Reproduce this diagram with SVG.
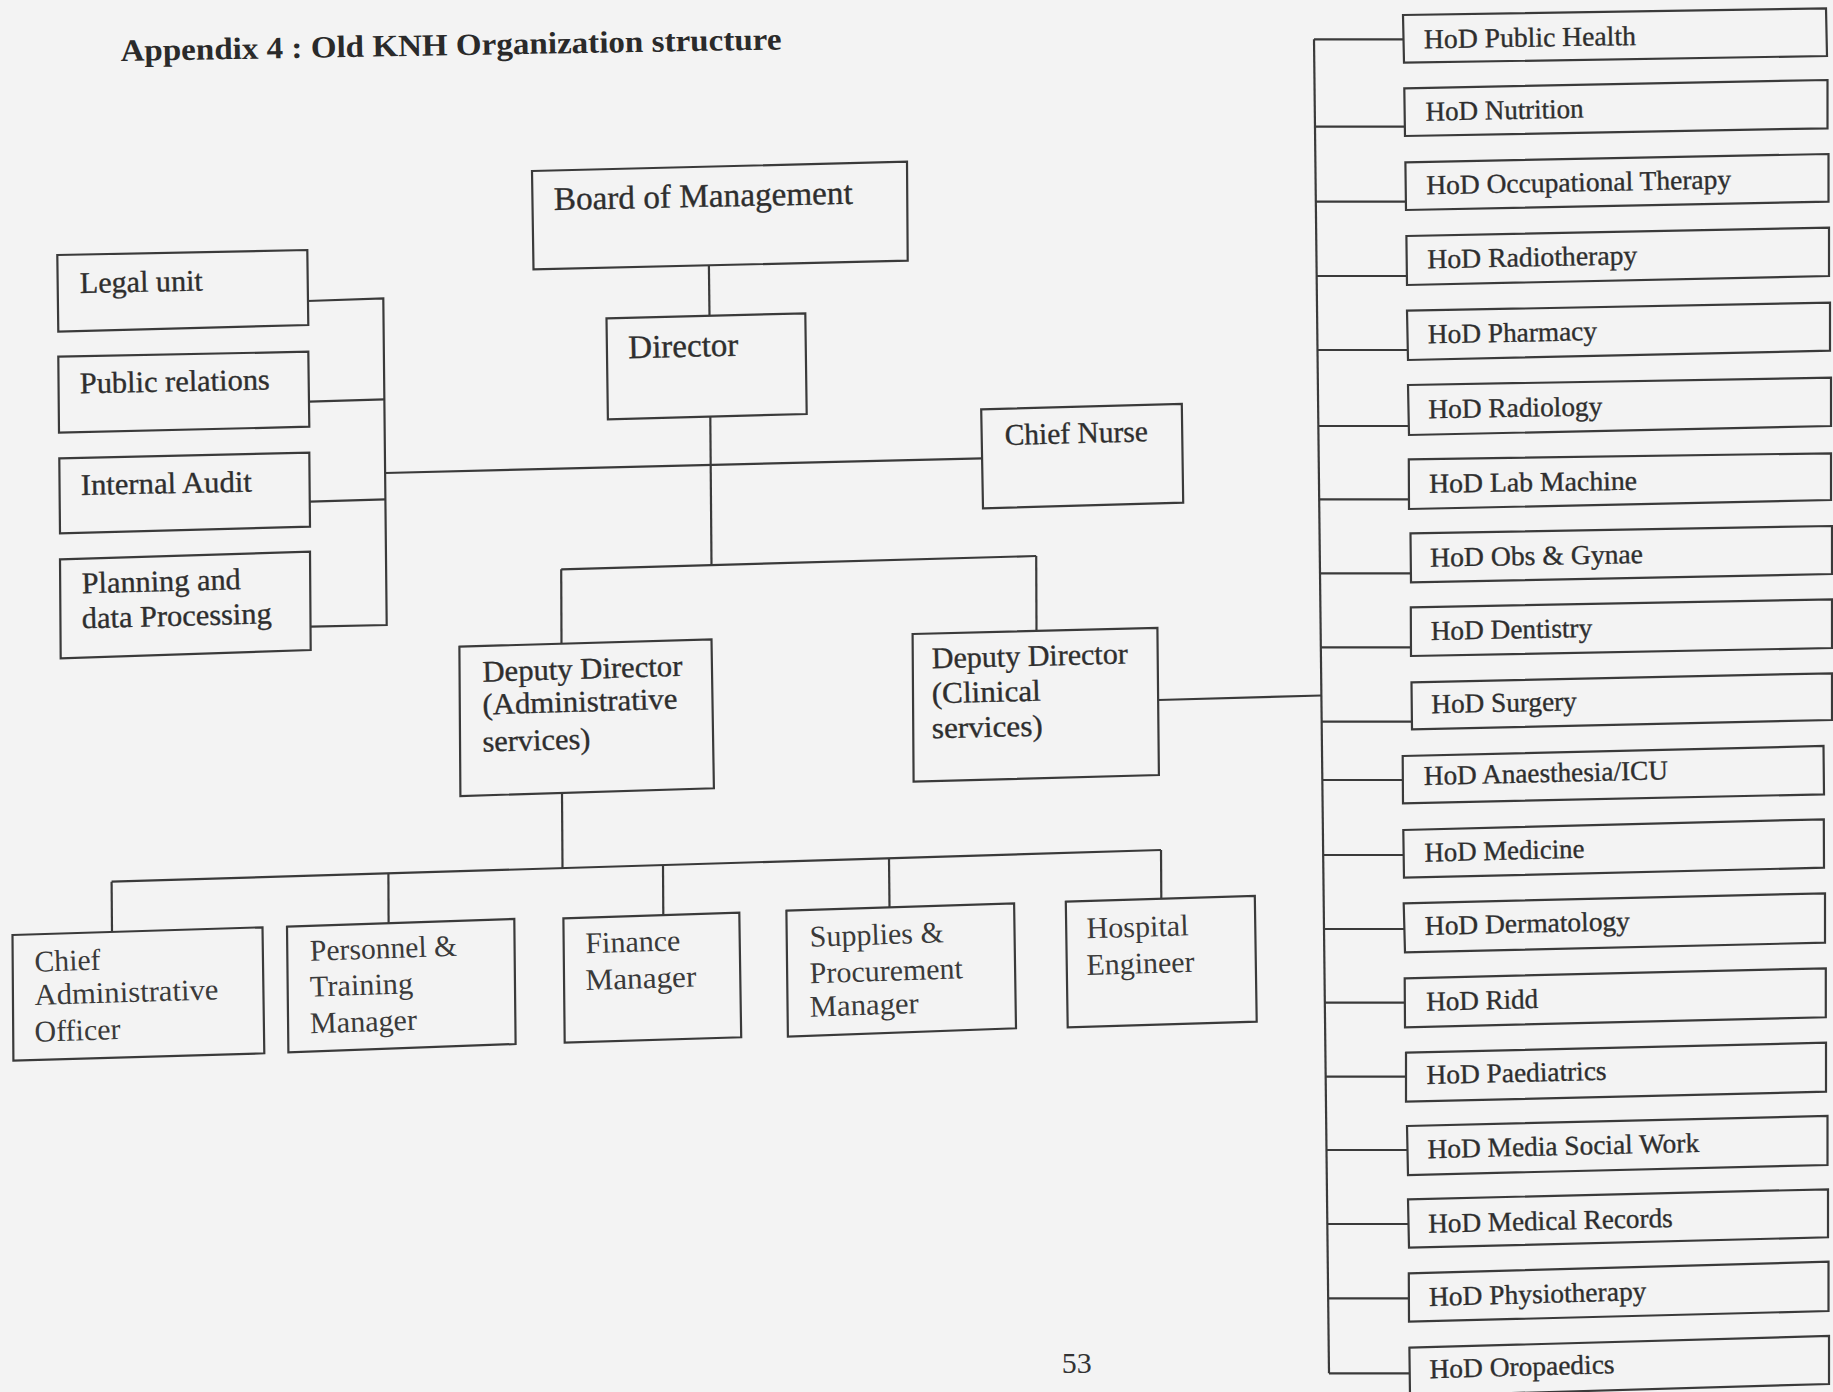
<svg xmlns="http://www.w3.org/2000/svg" width="1833" height="1392" viewBox="0 0 1833 1392">
<style>
.bg{fill:#f3f3f3}
.box{fill:none;stroke:#3a3a3a;stroke-width:2.2;stroke-linejoin:miter}
.conn line,.conn polyline{fill:none;stroke:#3a3a3a;stroke-width:2.2}
.t{font-family:"Liberation Serif","Times New Roman",serif;font-size:30px;fill:#2e2e2e;stroke:#2e2e2e;stroke-width:0.35}
.lt{fill:#3a3a3a;stroke:none}
.big{font-size:33px}
.hod{font-size:27.3px}
.title{font-family:"Liberation Serif","Times New Roman",serif;font-size:31px;font-weight:bold;fill:#2a2a2a}
.pn{font-family:"Liberation Serif","Times New Roman",serif;font-size:30px;fill:#333}
</style>
<rect class="bg" x="0" y="0" width="1833" height="1392"/>

<g id="title"><text class="title" x="120.7" y="61" transform="rotate(-1 120.7 61)" textLength="661" lengthAdjust="spacingAndGlyphs">Appendix 4 : Old KNH Organization structure</text></g>

<g id="connectors" class="conn">
<polyline points="307.3,301 383.3,298.3 386.7,625 310.7,626.7"/>
<line x1="309.3" y1="401.7" x2="384.4" y2="399.3"/>
<line x1="310" y1="501.7" x2="385.4" y2="499.3"/>
<line x1="385.1" y1="473" x2="982.1" y2="458.3"/>
<line x1="708.9" y1="265.3" x2="709.5" y2="315.7"/>
<line x1="710.3" y1="416.6" x2="711.5" y2="565.1"/>
<line x1="561.2" y1="569.3" x2="1036.2" y2="556"/>
<line x1="561.2" y1="569.3" x2="561.5" y2="643.7"/>
<line x1="1036.2" y1="556" x2="1036.5" y2="631"/>
<line x1="1158.1" y1="700" x2="1321.4" y2="695.5"/>
<line x1="562" y1="792.9" x2="562.5" y2="868.1"/>
<line x1="111.6" y1="881.7" x2="1161" y2="850"/>
<line x1="111.6" y1="881.7" x2="112" y2="932"/>
<line x1="388.4" y1="873.3" x2="388.6" y2="923.3"/>
<line x1="663" y1="865.2" x2="663.3" y2="915.1"/>
<line x1="889" y1="858.2" x2="889.5" y2="907.4"/>
<line x1="1161" y1="850" x2="1161.3" y2="898.8"/>
<line x1="1314" y1="39.3" x2="1329" y2="1373.3"/>
<line x1="1314" y1="39.3" x2="1403.1" y2="39.3"/>
<line x1="1315" y1="126.7" x2="1404.7" y2="126.7"/>
<line x1="1315.8" y1="201.7" x2="1405.8" y2="201.7"/>
<line x1="1316.7" y1="276" x2="1406.9" y2="276"/>
<line x1="1317.5" y1="350" x2="1407.8" y2="350"/>
<line x1="1318.3" y1="426" x2="1408.8" y2="426"/>
<line x1="1319.2" y1="499.3" x2="1409" y2="499.3"/>
<line x1="1320" y1="573.3" x2="1410.9" y2="573.3"/>
<line x1="1320.8" y1="647.3" x2="1411" y2="647.3"/>
<line x1="1321.7" y1="721.7" x2="1411.9" y2="721.7"/>
<line x1="1322.3" y1="780" x2="1402.9" y2="780"/>
<line x1="1323.2" y1="855" x2="1403.7" y2="855"/>
<line x1="1324" y1="929" x2="1404.3" y2="929"/>
<line x1="1324.8" y1="1002.7" x2="1404.9" y2="1002.7"/>
<line x1="1325.7" y1="1076.7" x2="1406" y2="1076.7"/>
<line x1="1326.5" y1="1150" x2="1407.5" y2="1150"/>
<line x1="1327.4" y1="1224" x2="1408.5" y2="1224"/>
<line x1="1328.2" y1="1298.3" x2="1408.9" y2="1298.3"/>
<line x1="1329" y1="1373.3" x2="1409.7" y2="1373.3"/>
</g>

<g id="legal-unit"><polygon class="box" points="57.3,255 307.3,250 308.3,325 58.3,331.7"/><text class="t" x="80" y="293" transform="rotate(-1.15 80 293)" textLength="123" lengthAdjust="spacingAndGlyphs">Legal unit</text></g>
<g id="public-relations"><polygon class="box" points="58.3,356.7 308.3,351.7 309.3,426.7 59,432.7"/><text class="t" x="80" y="393.3" transform="rotate(-1.15 80 393.3)" textLength="190" lengthAdjust="spacingAndGlyphs">Public relations</text></g>
<g id="internal-audit"><polygon class="box" points="59.3,458.3 309.3,452.7 310,526.7 60,533.3"/><text class="t" x="81" y="495" transform="rotate(-1.15 81 495)" textLength="171" lengthAdjust="spacingAndGlyphs">Internal Audit</text></g>
<g id="planning"><polygon class="box" points="60,559.3 310,551.7 310.7,650 60.7,658.3"/><text class="t" x="82" y="593.3" transform="rotate(-1.5 82 593.3)" textLength="159" lengthAdjust="spacingAndGlyphs">Planning and</text><text class="t" x="82" y="628.3" transform="rotate(-1.5 82 628.3)" textLength="190" lengthAdjust="spacingAndGlyphs">data Processing</text></g>

<g id="board"><polygon class="box" points="532,171 907,161.7 907.7,260.7 533.5,269.3"/><text class="t big" x="554" y="210" transform="rotate(-1.2 554 210)" textLength="299" lengthAdjust="spacingAndGlyphs">Board of Management</text></g>
<g id="director"><polygon class="box" points="606.5,318.3 805.3,313.3 806.7,414 607.9,419.3"/><text class="t big" x="628.6" y="358.3" transform="rotate(-1.4 628.6 358.3)" textLength="110" lengthAdjust="spacingAndGlyphs">Director</text></g>
<g id="chief-nurse"><polygon class="box" points="981.2,409.3 1181.8,404 1183.2,502.7 983,508.3"/><text class="t" x="1005" y="445" transform="rotate(-1.5 1005 445)" textLength="143" lengthAdjust="spacingAndGlyphs">Chief Nurse</text></g>

<g id="dd-admin"><polygon class="box" points="459.4,646.7 711.5,639.3 713.9,788.3 460.4,796"/>
<text class="t" x="482.7" y="681.7" transform="rotate(-1.7 482.7 681.7)" textLength="200" lengthAdjust="spacingAndGlyphs">Deputy Director</text>
<text class="t" x="482.7" y="714.5" transform="rotate(-1.7 482.7 714.5)" textLength="195" lengthAdjust="spacingAndGlyphs">(Administrative</text>
<text class="t" x="482.7" y="751.7" transform="rotate(-1.7 482.7 751.7)" textLength="108" lengthAdjust="spacingAndGlyphs">services)</text></g>
<g id="dd-clinical"><polygon class="box" points="912.6,634 1157.4,628 1158.9,775 913.6,781.7"/>
<text class="t" x="932" y="668.3" transform="rotate(-1.4 932 668.3)" textLength="196" lengthAdjust="spacingAndGlyphs">Deputy Director</text>
<text class="t" x="932" y="703.3" transform="rotate(-1.4 932 703.3)" textLength="109" lengthAdjust="spacingAndGlyphs">(Clinical</text>
<text class="t" x="932" y="738.3" transform="rotate(-1.4 932 738.3)" textLength="111" lengthAdjust="spacingAndGlyphs">services)</text></g>

<g id="chief-admin"><polygon class="box" points="12.5,935 262.5,927.3 264.3,1053.3 13.4,1060.7"/>
<text class="t lt" x="34.8" y="971.7" transform="rotate(-1.8 34.8 971.7)" textLength="66" lengthAdjust="spacingAndGlyphs">Chief</text>
<text class="t lt" x="34.8" y="1005" transform="rotate(-1.8 34.8 1005)" textLength="184" lengthAdjust="spacingAndGlyphs">Administrative</text>
<text class="t lt" x="34.8" y="1041.7" transform="rotate(-1.8 34.8 1041.7)" textLength="86" lengthAdjust="spacingAndGlyphs">Officer</text></g>
<g id="personnel"><polygon class="box" points="287,926.7 514.3,919 515.6,1044 288.4,1052.3"/>
<text class="t lt" x="310.3" y="960.7" transform="rotate(-1.9 310.3 960.7)" textLength="147" lengthAdjust="spacingAndGlyphs">Personnel &amp;</text>
<text class="t lt" x="310.3" y="996.7" transform="rotate(-1.9 310.3 996.7)" textLength="103" lengthAdjust="spacingAndGlyphs">Training</text>
<text class="t lt" x="310.3" y="1033.3" transform="rotate(-1.9 310.3 1033.3)" textLength="107" lengthAdjust="spacingAndGlyphs">Manager</text></g>
<g id="finance"><polygon class="box" points="563.4,918.3 739.3,912.7 741.2,1037.3 564.7,1042.7"/>
<text class="t lt" x="585.7" y="953.3" transform="rotate(-1.8 585.7 953.3)" textLength="95" lengthAdjust="spacingAndGlyphs">Finance</text>
<text class="t lt" x="585.7" y="990" transform="rotate(-1.8 585.7 990)" textLength="111" lengthAdjust="spacingAndGlyphs">Manager</text></g>
<g id="supplies"><polygon class="box" points="786.4,910.7 1014.1,903.3 1016,1028.3 787.9,1036.7"/>
<text class="t lt" x="810.1" y="946.7" transform="rotate(-1.9 810.1 946.7)" textLength="134" lengthAdjust="spacingAndGlyphs">Supplies &amp;</text>
<text class="t lt" x="810.1" y="983.3" transform="rotate(-1.9 810.1 983.3)" textLength="153" lengthAdjust="spacingAndGlyphs">Procurement</text>
<text class="t lt" x="810.1" y="1016.7" transform="rotate(-1.9 810.1 1016.7)" textLength="109" lengthAdjust="spacingAndGlyphs">Manager</text></g>
<g id="hospital-engineer"><polygon class="box" points="1065.8,901.7 1254.8,896 1256.7,1021.7 1067.7,1027.3"/>
<text class="t lt" x="1086.8" y="938.3" transform="rotate(-1.7 1086.8 938.3)" textLength="102" lengthAdjust="spacingAndGlyphs">Hospital</text>
<text class="t lt" x="1086.8" y="975" transform="rotate(-1.7 1086.8 975)" textLength="108" lengthAdjust="spacingAndGlyphs">Engineer</text></g>

<g id="hod-public-health"><polygon class="box" points="1403,15 1826,8.3 1827,56 1404,62.7"/><text class="t hod" x="1424.1" y="48.3" transform="rotate(-0.91 1424.1 48.3)" textLength="212" lengthAdjust="spacingAndGlyphs">HoD Public Health</text></g>
<g id="hod-nutrition"><polygon class="box" points="1404.3,88.3 1827.5,80 1827.5,128.3 1405,136"/><text class="t hod" x="1425.8" y="120.7" transform="rotate(-1.12 1425.8 120.7)" textLength="158" lengthAdjust="spacingAndGlyphs">HoD Nutrition</text></g>
<g id="hod-occupational-therapy"><polygon class="box" points="1405.4,162.3 1828.5,154 1828.5,201.7 1406,210"/><text class="t hod" x="1426.4" y="194.3" transform="rotate(-1.12 1426.4 194.3)" textLength="305" lengthAdjust="spacingAndGlyphs">HoD Occupational Therapy</text></g>
<g id="hod-radiotherapy"><polygon class="box" points="1406.4,236 1829,227.7 1829,276 1407,285"/><text class="t hod" x="1427.5" y="268.3" transform="rotate(-1.13 1427.5 268.3)" textLength="210" lengthAdjust="spacingAndGlyphs">HoD Radiotherapy</text></g>
<g id="hod-pharmacy"><polygon class="box" points="1407,310.7 1830,302.7 1830,350.7 1408,360"/><text class="t hod" x="1428.1" y="343.3" transform="rotate(-1.08 1428.1 343.3)" textLength="169" lengthAdjust="spacingAndGlyphs">HoD Pharmacy</text></g>
<g id="hod-radiology"><polygon class="box" points="1408,385 1831,377.7 1831,426 1409,435"/><text class="t hod" x="1428.5" y="418.3" transform="rotate(-0.99 1428.5 418.3)" textLength="174" lengthAdjust="spacingAndGlyphs">HoD Radiology</text></g>
<g id="hod-lab-machine"><polygon class="box" points="1408.8,459.3 1831,453.3 1831,500 1409,509"/><text class="t hod" x="1429.2" y="492.7" transform="rotate(-0.81 1429.2 492.7)" textLength="208" lengthAdjust="spacingAndGlyphs">HoD Lab Machine</text></g>
<g id="hod-obs-gynae"><polygon class="box" points="1410.5,533.3 1832,526 1832,574 1411,582.3"/><text class="t hod" x="1430.2" y="566.7" transform="rotate(-0.99 1430.2 566.7)" textLength="213" lengthAdjust="spacingAndGlyphs">HoD Obs &amp; Gynae</text></g>
<g id="hod-dentistry"><polygon class="box" points="1410.8,607.3 1832,599.3 1832,648 1411,656"/><text class="t hod" x="1430.9" y="640" transform="rotate(-1.09 1430.9 640)" textLength="161.5" lengthAdjust="spacingAndGlyphs">HoD Dentistry</text></g>
<g id="hod-surgery"><polygon class="box" points="1411.5,682.3 1832,673.3 1832,720 1412,729.3"/><text class="t hod" x="1431.5" y="713.3" transform="rotate(-1.23 1431.5 713.3)" textLength="145.5" lengthAdjust="spacingAndGlyphs">HoD Surgery</text></g>
<g id="hod-anaesthesia-icu"><polygon class="box" points="1402.7,756 1823.5,746 1824,794.3 1403,803.3"/><text class="t hod" x="1424.1" y="785" transform="rotate(-1.36 1424.1 785)" textLength="244" lengthAdjust="spacingAndGlyphs">HoD Anaesthesia/ICU</text></g>
<g id="hod-medicine"><polygon class="box" points="1403.3,830 1823.8,819.3 1824,867.7 1404,877.7"/><text class="t hod" x="1424.7" y="861.7" transform="rotate(-1.46 1424.7 861.7)" textLength="160" lengthAdjust="spacingAndGlyphs">HoD Medicine</text></g>
<g id="hod-dermatology"><polygon class="box" points="1403.7,903.3 1825,893.3 1825,942.7 1405,952.3"/><text class="t hod" x="1425.1" y="935" transform="rotate(-1.36 1425.1 935)" textLength="205" lengthAdjust="spacingAndGlyphs">HoD Dermatology</text></g>
<g id="hod-ridd"><polygon class="box" points="1404.7,978.3 1825.8,968.3 1825.8,1017.3 1405,1027.3"/><text class="t hod" x="1426.4" y="1010.7" transform="rotate(-1.36 1426.4 1010.7)" textLength="112" lengthAdjust="spacingAndGlyphs">HoD Ridd</text></g>
<g id="hod-paediatrics"><polygon class="box" points="1406,1052.7 1826,1042.7 1826,1091.7 1406,1101.7"/><text class="t hod" x="1426.8" y="1084" transform="rotate(-1.36 1426.8 1084)" textLength="180" lengthAdjust="spacingAndGlyphs">HoD Paediatrics</text></g>
<g id="hod-media-social-work"><polygon class="box" points="1407,1126 1827.5,1116 1827.5,1165 1408,1175"/><text class="t hod" x="1427.8" y="1158.3" transform="rotate(-1.36 1427.8 1158.3)" textLength="271.6" lengthAdjust="spacingAndGlyphs">HoD Media Social Work</text></g>
<g id="hod-medical-records"><polygon class="box" points="1408,1199.3 1828,1189.3 1828,1237.3 1409,1247.7"/><text class="t hod" x="1428.5" y="1232.7" transform="rotate(-1.36 1428.5 1232.7)" textLength="244.4" lengthAdjust="spacingAndGlyphs">HoD Medical Records</text></g>
<g id="hod-physiotherapy"><polygon class="box" points="1408.8,1273.3 1828.5,1261.7 1828.5,1311 1409,1321.7"/><text class="t hod" x="1429.2" y="1306" transform="rotate(-1.58 1429.2 1306)" textLength="217.5" lengthAdjust="spacingAndGlyphs">HoD Physiotherapy</text></g>
<g id="hod-oropaedics"><polygon class="box" points="1409.4,1347.7 1829,1336 1829,1384 1410,1396"/><text class="t hod" x="1429.8" y="1378.3" transform="rotate(-1.6 1429.8 1378.3)" textLength="185" lengthAdjust="spacingAndGlyphs">HoD Oropaedics</text></g>

<g id="page-number"><text class="pn" x="1061.7" y="1373">53</text></g>
</svg>
